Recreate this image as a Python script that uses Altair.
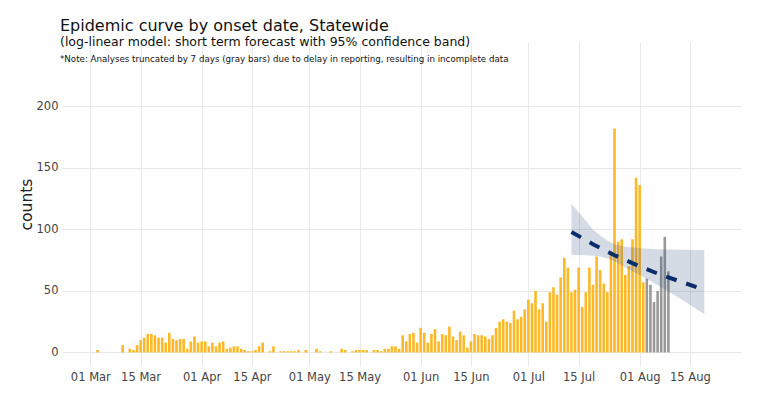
import altair as alt
import pandas as pd

YEAR = 2020

# Daily case counts by onset date (index 0 = day 1 of the month)
MARCH = [0, 0, 2, 0, 0, 0, 0, 0, 0, 6, 0, 3, 2, 6, 10, 12, 15, 15, 14, 12,
         12, 8, 16, 11, 10, 11, 11, 3, 9, 13, 8]
APRIL = [9, 9, 5, 8, 5, 8, 9, 3, 4, 5, 5, 3, 2, 1, 1, 2, 5, 8, 0, 1,
         5, 0, 1, 1, 1, 1, 1, 2, 0, 2]
MAY = [0, 0, 3, 1, 0, 0, 1, 0, 0, 3, 2, 0, 1, 2, 2, 2, 2, 0, 2, 2,
       1, 3, 3, 5, 5, 3, 14, 9, 15, 16, 8]
JUNE = [20, 16, 8, 15, 19, 9, 15, 14, 21, 13, 10, 17, 14, 4, 9, 15, 14, 14, 13, 11,
        14, 20, 25, 27, 25, 24, 34, 27, 29, 35]
JULY = [43, 40, 50, 35, 40, 25, 49, 53, 47, 61, 77, 69, 49, 51, 69, 37, 49, 69, 55, 78,
        67, 56, 49, 82, 182, 90, 92, 63, 70, 92, 142]
AUGUST = [136, 57]
# Aug 3 - Aug 9: truncated (incomplete reporting), gray bars
AUGUST_TRUNCATED = [60, 55, 41, 50, 78, 94, 66]

# Forecast (log-linear model) and 95% confidence band
FORECAST_DATES = ["2020-07-13", "2020-07-19", "2020-07-25", "2020-08-01",
                  "2020-08-07", "2020-08-13", "2020-08-19"]
FORECAST_VALUES = [98, 88, 79, 70, 63, 57, 51]

BAND_DATES = ["2020-07-13", "2020-07-15", "2020-07-17", "2020-07-19", "2020-07-21",
              "2020-07-23", "2020-07-25", "2020-07-28", "2020-08-01", "2020-08-05",
              "2020-08-09", "2020-08-13", "2020-08-17", "2020-08-19"]
BAND_UPPER = [121, 114, 107, 100, 95, 91, 88, 86, 84.8, 84.2, 83.7, 83.5, 83.4, 83.3]
BAND_LOWER = [79.3, 79.2, 79, 78.6, 78, 76.5, 74, 69, 63, 56.5, 49.5, 42.5, 35, 31]

TICK_DAYS = [(3, 1), (3, 15), (4, 1), (4, 15), (5, 1), (5, 15), (6, 1), (6, 15),
             (7, 1), (7, 15), (8, 1), (8, 15)]
Y_TICKS = [0, 50, 100, 150, 200]

TITLE = "Epidemic curve by onset date, Statewide"
SUBTITLE = "(log-linear model: short term forecast with 95% confidence band)"
NOTE = ("*Note: Analyses truncated by 7 days (gray bars) due to delay in reporting, "
        "resulting in incomplete data")

# ---- build tables ----
rows = []
for month, values in [(3, MARCH), (4, APRIL), (5, MAY), (6, JUNE), (7, JULY), (8, AUGUST)]:
    for i, v in enumerate(values):
        if v > 0:
            rows.append({"date": f"{YEAR}-{month:02d}-{i + 1:02d}", "count": v,
                         "status": "reported"})
for i, v in enumerate(AUGUST_TRUNCATED):
    rows.append({"date": f"{YEAR}-08-{i + 3:02d}", "count": v, "status": "truncated"})
bars_df = pd.DataFrame(rows)

line_df = pd.DataFrame({"date": FORECAST_DATES, "count": FORECAST_VALUES})
band_df = pd.DataFrame({"date": BAND_DATES, "upper": BAND_UPPER, "count": BAND_LOWER})
note_df = pd.DataFrame({"note": [NOTE]})

FONT = "DejaVu Sans"

x_scale = alt.Scale(
    type="utc",
    domain=[alt.DateTime(year=YEAR, month=2, date=23, hours=12, utc=True),
            alt.DateTime(year=YEAR, month=8, date=27, hours=20, utc=True)],
)
y_scale = alt.Scale(domain=[-11, 252.4], nice=False, zero=False)

x_axis = alt.Axis(
    values=[alt.DateTime(year=YEAR, month=m, date=d, utc=True) for m, d in TICK_DAYS],
    labelExpr="utcFormat(datum.value, '%d %b')", title=None, labelPadding=5,
)
y_axis = alt.Axis(values=Y_TICKS, title="counts", labelPadding=4,
                  titleFontSize=15.5, titleFontWeight="normal", titleColor="#222",
                  titlePadding=2, titleFont=FONT)

X = alt.X("date:T", scale=x_scale, axis=x_axis)
Y = alt.Y("count:Q", scale=y_scale, axis=y_axis)

bars = alt.Chart(bars_df).mark_bar(width=2.6).encode(
    x=X, y=Y,
    color=alt.Color("status:N",
                    scale=alt.Scale(domain=["reported", "truncated"],
                                    range=["#FDB827", "#999999"]),
                    legend=None),
)

band = alt.Chart(band_df).mark_area(color="#2c4a7f", opacity=0.2).encode(
    x=X, y=Y, y2="upper:Q",
)

line = alt.Chart(line_df).mark_line(color="#0b2d6b", strokeWidth=4,
                                    strokeDash=[11, 10]).encode(
    x=X, y=Y,
)

note = alt.Chart(note_df).mark_text(align="left", baseline="alphabetic", fontSize=8.7,
                                    font=FONT, color="#111").encode(
    text="note:N", x=alt.value(-2), y=alt.value(20),
)

chart = alt.layer(bars, band, line, note).properties(
    width=679, height=324,
    title=alt.TitleParams(TITLE, subtitle=SUBTITLE, anchor="start", frame="group",
                          font=FONT, fontSize=16, fontWeight="normal", color="#111",
                          subtitleFont=FONT, subtitleFontSize=12.5, subtitleColor="#111",
                          subtitlePadding=2, dx=-2, offset=-6),
    autosize=alt.AutoSizeParams(type="none"),
    padding={"left": 54, "top": 34, "right": 18, "bottom": 22},
).configure_view(stroke=None).configure_axis(
    grid=True, gridColor="#e8e8e8", domain=False, ticks=False,
    labelColor="#444", labelFont=FONT, labelFontSize=11.5,
)

chart.save("out.html", embed_options={"renderer": "svg", "actions": False})
